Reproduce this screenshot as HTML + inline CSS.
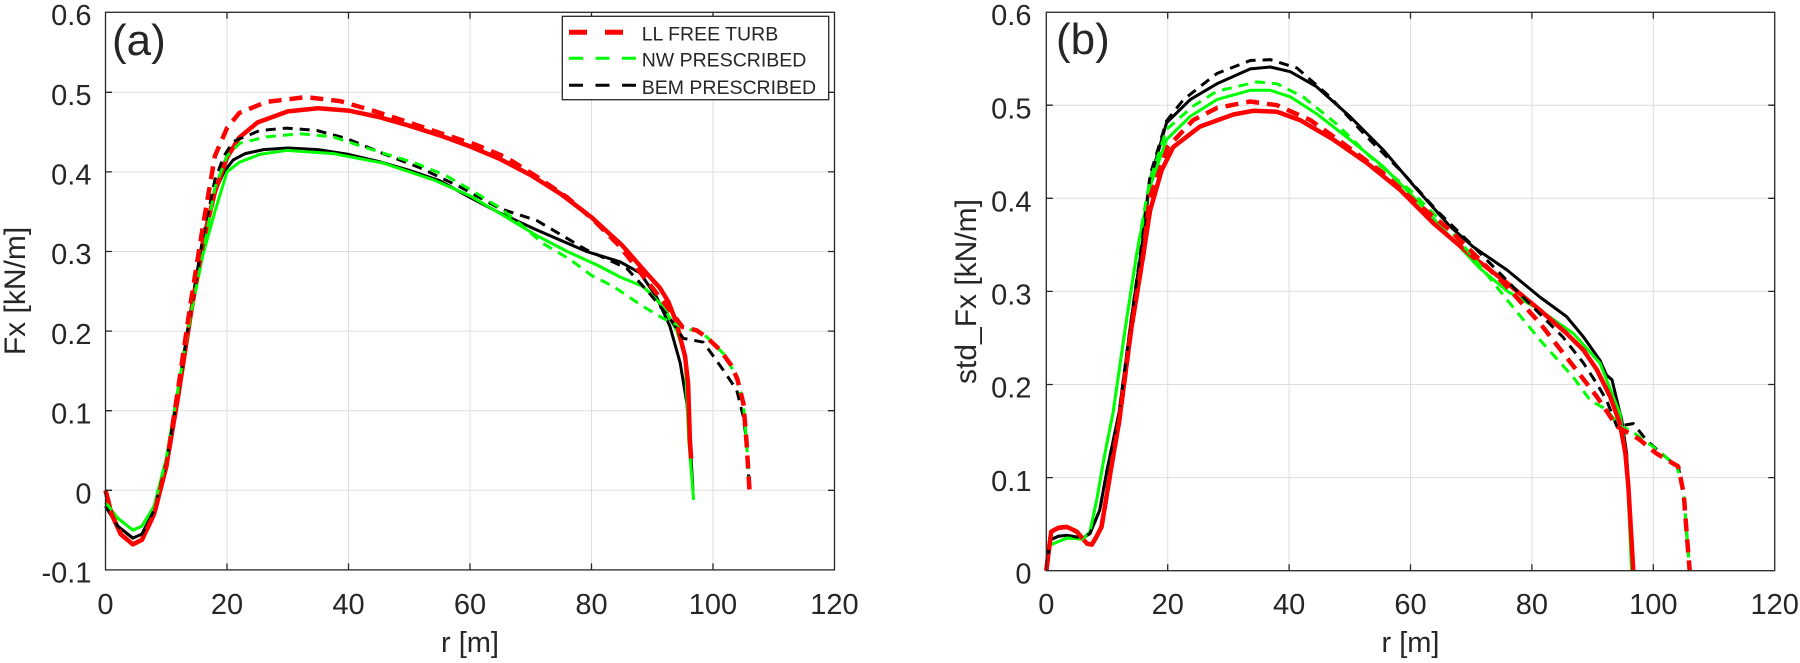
<!DOCTYPE html>
<html>
<head>
<meta charset="utf-8">
<style>
html,body{margin:0;padding:0;background:#fff;}
svg{display:block;}
text{font-family:"Liberation Sans",Arial,sans-serif;fill:#262626;}
</style>
</head>
<body>
<svg width="1800" height="663" viewBox="0 0 1800 663" xmlns="http://www.w3.org/2000/svg">
<rect x="0" y="0" width="1800" height="663" fill="#fff"/>

<!-- ================= LEFT PANEL (a) ================= -->
<g stroke="#dfdfdf" stroke-width="1" fill="none">
  <line x1="227" y1="12.3" x2="227" y2="569.9"/>
  <line x1="348.5" y1="12.3" x2="348.5" y2="569.9"/>
  <line x1="470" y1="12.3" x2="470" y2="569.9"/>
  <line x1="591.5" y1="12.3" x2="591.5" y2="569.9"/>
  <line x1="713" y1="12.3" x2="713" y2="569.9"/>
  <line x1="105.5" y1="92.3" x2="834.5" y2="92.3"/>
  <line x1="105.5" y1="171.9" x2="834.5" y2="171.9"/>
  <line x1="105.5" y1="251.5" x2="834.5" y2="251.5"/>
  <line x1="105.5" y1="331.1" x2="834.5" y2="331.1"/>
  <line x1="105.5" y1="410.7" x2="834.5" y2="410.7"/>
  <line x1="105.5" y1="490.3" x2="834.5" y2="490.3"/>
</g>

<g fill="none" stroke-linejoin="round" stroke-linecap="butt">
  <!-- black solid -->
  <polyline stroke="#000" stroke-width="3" points="105.5,506.2 117.7,526.1 132.8,538.1 142,534.1 154.1,510.2 166.3,462.4 178.4,390.8 190.6,311.2 202.7,239.5 214.9,191.8 224,171.9 233.1,160 245.2,153.6 263.5,149.6 287.8,148 318.1,149.6 348.5,154.4 378.9,161.6 409.3,170.3 439.6,180.7 470,197.4 500.4,213.3 536.8,230 586.6,251.5 620.1,261.8 640.1,273 656.5,296.9 669.9,326.3 680.2,363 686.9,403.5 689.9,440.2 693,490.3"/>
  <!-- green solid -->
  <polyline stroke="#00ff00" stroke-width="3" points="105.5,502.2 117.7,518.2 132.8,530.1 142,526.1 154.1,506.2 166.3,458.5 178.4,386.8 190.6,315.2 202.7,255.5 214.9,211.7 227,171.9 239.2,162.3 259.8,154.4 286.5,150.4 333.3,153.6 383.1,163.1 433.6,179.9 470,195.8 499.8,213.3 536.8,235.6 567.2,251.5 597,265 620.1,277 643.1,286.5 663.2,306.4 676.6,330.3 685.1,356.6 688.7,440.2 693.6,499.9"/>
  <!-- red solid -->
  <polyline stroke="#ff0000" stroke-width="4.5" points="105.5,490.3 111.6,514.2 120.7,534.1 132.8,544.4 142,539.7 154.1,514.2 166.3,466.4 178.4,394.8 190.6,315.2 202.7,243.5 214.9,191.8 227,157.6 239.2,137.7 257.4,122.5 287.8,111.4 318.1,108.2 348.5,110.6 378.9,117 409.3,125.7 439.6,135.3 470,146.4 500.4,159.2 530.8,175.1 561.1,194.2 591.5,217.3 621.9,245.1 646.2,272.8 660,288 668.5,302 676.6,323.1 685.1,356.6 688.1,383.6 689.9,440.2 691.1,458.5"/>
  <!-- black dashed -->
  <polyline stroke="#000" stroke-width="3" stroke-dasharray="10 7" points="105.5,506.2 117.7,526.1 132.8,538.1 142,534.1 154.1,510.2 166.3,462.4 178.4,390.8 190.6,311.2 202.7,239.5 214.9,179.9 224,156 233.1,141.6 259.8,130.5 286.5,128.1 316.9,130.5 346.7,138.5 383.1,153.6 420.2,167.9 460.3,187 499.8,208.5 536.8,220.5 586.6,249.9 626.7,268.2 649.8,293.7 669.9,318.4 683.2,338.3 703.3,342.2 723.3,370.1 736.7,390 743.4,417.1 746.4,440.2 749.5,490.3"/>
  <!-- green dashed -->
  <polyline stroke="#00ff00" stroke-width="3" stroke-dasharray="10 7" points="105.5,502.2 117.7,518.2 132.8,530.1 142,526.1 154.1,506.2 166.3,458.5 178.4,386.8 190.6,315.2 202.7,255.5 214.9,187.8 227,156 239.8,143.2 266.5,136.9 299.9,133.7 333.3,136.9 366.7,148 416.5,163.5 445.7,175.5 470,189.4 499.8,207.7 519.8,223.6 542.9,243.5 570.2,259.5 591.5,275.4 613.4,286.5 643.1,306.4 663.2,318.4 680.2,326.3 703.3,333.5 723.3,353.4 736.7,376.5 743.4,403.5 746.4,440.2 749.5,490.3"/>
  <!-- red dashed -->
  <polyline stroke="#ff0000" stroke-width="4.5" stroke-dasharray="13 8" points="105.5,490.3 111.6,514.2 120.7,534.1 132.8,544.4 142,539.7 154.1,514.2 166.3,466.4 178.4,386.8 190.6,303.2 202.7,227.6 214.9,156 227,128.1 239.2,113 266.5,101.9 306,97.1 340,101.1 372.8,110.6 406.8,121.7 439.6,132.9 476.1,144.8 506.5,157.6 536.8,176.7 567.2,197.4 593.3,219.7 620.1,246.7 640.1,272.2 658.3,295.3 670.5,311.2 682.6,327.1 696.6,330.3 706.9,337.5 720.3,350.2 731.2,365.3 737.3,378.9 743.4,403.5 746.4,440.2 749.5,490.3"/>
</g>

<!-- axes box and ticks (a) -->
<g stroke="#262626" stroke-width="1.3" fill="none">
  <rect x="105.5" y="12.3" width="729" height="557.6"/>
  <path d="M227 569.9v-6.5M348.5 569.9v-6.5M470 569.9v-6.5M591.5 569.9v-6.5M713 569.9v-6.5
           M227 12.3v6.5M348.5 12.3v6.5M470 12.3v6.5M591.5 12.3v6.5M713 12.3v6.5
           M105.5 92.3h6.5M105.5 171.9h6.5M105.5 251.5h6.5M105.5 331.1h6.5M105.5 410.7h6.5M105.5 490.3h6.5
           M834.5 92.3h-6.5M834.5 171.9h-6.5M834.5 251.5h-6.5M834.5 331.1h-6.5M834.5 410.7h-6.5M834.5 490.3h-6.5"/>
</g>

<!-- legend -->
<rect x="562.3" y="16.3" width="266.4" height="83.4" fill="#fff" stroke="#262626" stroke-width="1.3"/>
<line x1="569" y1="32.3" x2="636" y2="32.3" stroke="#ff0000" stroke-width="5" stroke-dasharray="18 18"/>
<line x1="569" y1="58.3" x2="636" y2="58.3" stroke="#00ff00" stroke-width="3" stroke-dasharray="14 12.5"/>
<line x1="569" y1="85.3" x2="636" y2="85.3" stroke="#000" stroke-width="3" stroke-dasharray="14 12.5"/>
<text x="641.7" y="40.7" font-size="19.5">LL FREE TURB</text>
<text x="641.7" y="66.7" font-size="19.5">NW PRESCRIBED</text>
<text x="641.7" y="94" font-size="19.5">BEM PRESCRIBED</text>

<!-- tick labels (a) -->
<g font-size="29" text-anchor="middle">
  <text x="105.5" y="614">0</text>
  <text x="227" y="614">20</text>
  <text x="348.5" y="614">40</text>
  <text x="470" y="614">60</text>
  <text x="591.5" y="614">80</text>
  <text x="713" y="614">100</text>
  <text x="834.5" y="614">120</text>
</g>
<g font-size="29" text-anchor="end">
  <text x="91.5" y="25">0.6</text>
  <text x="91.5" y="105">0.5</text>
  <text x="91.5" y="184.5">0.4</text>
  <text x="91.5" y="264">0.3</text>
  <text x="91.5" y="344">0.2</text>
  <text x="91.5" y="423.5">0.1</text>
  <text x="91.5" y="503.3">0</text>
  <text x="91.5" y="582.5">-0.1</text>
</g>
<text x="470" y="652" font-size="29" text-anchor="middle">r [m]</text>
<text transform="translate(25,291) rotate(-90)" font-size="30" text-anchor="middle">Fx [kN/m]</text>
<text x="112" y="55" font-size="44">(a)</text>

<!-- ================= RIGHT PANEL (b) ================= -->
<g stroke="#dfdfdf" stroke-width="1" fill="none">
  <line x1="1167.7" y1="12.3" x2="1167.7" y2="570.7"/>
  <line x1="1289.1" y1="12.3" x2="1289.1" y2="570.7"/>
  <line x1="1410.5" y1="12.3" x2="1410.5" y2="570.7"/>
  <line x1="1531.9" y1="12.3" x2="1531.9" y2="570.7"/>
  <line x1="1653.3" y1="12.3" x2="1653.3" y2="570.7"/>
  <line x1="1046.3" y1="105.2" x2="1774.7" y2="105.2"/>
  <line x1="1046.3" y1="198.3" x2="1774.7" y2="198.3"/>
  <line x1="1046.3" y1="291.4" x2="1774.7" y2="291.4"/>
  <line x1="1046.3" y1="384.5" x2="1774.7" y2="384.5"/>
  <line x1="1046.3" y1="477.6" x2="1774.7" y2="477.6"/>
</g>

<g fill="none" stroke-linejoin="round" stroke-linecap="butt">
  <!-- black solid -->
  <polyline stroke="#000" stroke-width="3" points="1046.3,570.7 1050,540 1058.4,536.3 1066.9,535.3 1082.7,538.1 1090,533.5 1099.7,510.2 1107,470.2 1119.1,412.4 1131.3,319.3 1143.4,235.5 1150.1,179.7 1166.5,122.9 1190.2,99.6 1216.9,83.8 1250.3,68.9 1270.3,67 1290.3,71.7 1316.4,86.6 1349.8,116.4 1383.2,149.9 1416.6,189 1449.9,226.2 1473,246.7 1507,270 1539.8,297 1566.5,316.5 1583.5,337 1599.9,360.3 1606.6,375.2 1612,379.8 1616.9,400.3 1621.7,419.9 1626.6,453.4 1630.2,514.8 1632.1,570.7"/>
  <!-- green solid -->
  <polyline stroke="#00ff00" stroke-width="3" points="1046.3,546.5 1066.9,538.1 1082.7,539 1090,531.6 1096.7,499.9 1104.6,455 1113.1,412.4 1125.2,328.6 1137.4,249.5 1150.1,186.2 1166.5,139.6 1190.2,116.4 1216.9,99.6 1250.3,90.3 1270.3,90.3 1290.3,96.8 1316.4,113.6 1349.8,139.6 1383.2,166.6 1416.6,200.2 1449.9,236.5 1479.7,268.1 1507.6,291.4 1539.8,310 1573.2,333.3 1599.9,363.1 1619.9,413.4 1626.6,459 1631.5,570.7"/>
  <!-- red solid -->
  <polyline stroke="#ff0000" stroke-width="4.5" points="1046.3,570.7 1051.2,531.6 1058.4,527.9 1066.9,526.9 1076.7,531.6 1087,543.7 1091.8,544.6 1096.7,536.3 1101.5,526.9 1107,493.4 1111.9,463.6 1119.1,421.7 1131.3,328.6 1143.4,254.2 1150.1,210.4 1161.6,170.4 1173.2,147.1 1199.9,126.6 1233.3,114.5 1253.3,110.8 1277,111.7 1300,120.1 1333.4,139.6 1366.8,162.9 1400.2,189.9 1433.6,223.4 1473,257 1507,283 1539.8,310 1566.5,333.3 1583.5,350.1 1596.8,369.6 1610.2,396.6 1619.9,423.6 1625.4,453.4 1628.4,486.9 1633.3,570.7"/>
  <!-- black dashed -->
  <polyline stroke="#000" stroke-width="3" stroke-dasharray="10 7" points="1046.3,570.7 1050,540 1058.4,536.3 1066.9,535.3 1082.7,538.1 1090,533.5 1099.7,510.2 1107,470.2 1119.1,412.4 1131.3,319.3 1143.4,230.9 1150.1,175 1166.5,121 1183.5,99.6 1216.9,73.5 1250.3,60.5 1270.3,59.6 1297,68 1329.8,96.8 1366.8,136.9 1403.2,173.2 1436.6,210.4 1470,243 1493,266.3 1525.8,299.8 1562.9,337 1583.5,363.1 1596.8,383.6 1606.6,400.3 1616.9,426.4 1633.3,423.6 1646.6,440.4 1673.3,463.6 1678.2,466.4 1683.7,493.4 1686.7,533.5 1689.7,570.7"/>
  <!-- green dashed -->
  <polyline stroke="#00ff00" stroke-width="3" stroke-dasharray="10 7" points="1046.3,546.5 1066.9,538.1 1082.7,539 1090,531.6 1096.7,499.9 1104.6,455 1113.1,412.4 1125.2,328.6 1137.4,249.5 1149.5,182 1166.5,129.4 1193.2,106.1 1216.9,91.2 1256.9,81.9 1277,83.8 1303.1,96.8 1336.4,123.8 1376.5,162.9 1409.9,189.9 1449.9,230 1473,257 1507,299.8 1539.8,339.8 1573.2,377.1 1590.2,400.3 1606.6,409.6 1619.9,426.4 1630.2,430.1 1653.3,446.9 1677,466.4 1683.7,493.4 1686.7,533.5 1689.7,570.7"/>
  <!-- red dashed -->
  <polyline stroke="#ff0000" stroke-width="4.5" stroke-dasharray="13 8" points="1046.3,570.7 1051.2,531.6 1058.4,527.9 1066.9,526.9 1076.7,531.6 1087,543.7 1091.8,544.6 1096.7,536.3 1101.5,526.9 1107,493.4 1111.9,463.6 1119.1,421.7 1131.3,328.6 1143.4,254.2 1149.5,198.3 1167.7,147.1 1193.2,120.1 1216.9,108 1250.3,101.5 1277,105.2 1310.3,120.1 1343.1,143.4 1383.2,173.2 1416.6,203 1449.9,230 1479.7,259.7 1507,286.7 1539.8,323.1 1573.2,365.9 1596.8,396.6 1616.9,426.4 1626.6,432 1638.1,438.5 1656.3,453.4 1673.3,463.6 1678.2,466.4 1683.7,493.4 1686.7,533.5 1689.7,570.7"/>
</g>

<!-- axes box and ticks (b) -->
<g stroke="#262626" stroke-width="1.3" fill="none">
  <rect x="1046.3" y="12.3" width="728.4" height="558.4"/>
  <path d="M1167.7 570.7v-6.5M1289.1 570.7v-6.5M1410.5 570.7v-6.5M1531.9 570.7v-6.5M1653.3 570.7v-6.5
           M1167.7 12.3v6.5M1289.1 12.3v6.5M1410.5 12.3v6.5M1531.9 12.3v6.5M1653.3 12.3v6.5
           M1046.3 105.2h6.5M1046.3 198.3h6.5M1046.3 291.4h6.5M1046.3 384.5h6.5M1046.3 477.6h6.5
           M1774.7 105.2h-6.5M1774.7 198.3h-6.5M1774.7 291.4h-6.5M1774.7 384.5h-6.5M1774.7 477.6h-6.5"/>
</g>

<g font-size="29" text-anchor="middle">
  <text x="1046.3" y="614">0</text>
  <text x="1167.7" y="614">20</text>
  <text x="1289.1" y="614">40</text>
  <text x="1410.5" y="614">60</text>
  <text x="1531.9" y="614">80</text>
  <text x="1653.3" y="614">100</text>
  <text x="1774.7" y="614">120</text>
</g>
<g font-size="29" text-anchor="end">
  <text x="1031.5" y="25">0.6</text>
  <text x="1031.5" y="118.3">0.5</text>
  <text x="1031.5" y="211.4">0.4</text>
  <text x="1031.5" y="304.5">0.3</text>
  <text x="1031.5" y="397.6">0.2</text>
  <text x="1031.5" y="491">0.1</text>
  <text x="1031.5" y="583.5">0</text>
</g>
<text x="1410.5" y="652" font-size="29" text-anchor="middle">r [m]</text>
<text transform="translate(976,291.5) rotate(-90)" font-size="30" text-anchor="middle">std_Fx [kN/m]</text>
<text x="1056" y="54" font-size="44">(b)</text>
</svg>
</body>
</html>
